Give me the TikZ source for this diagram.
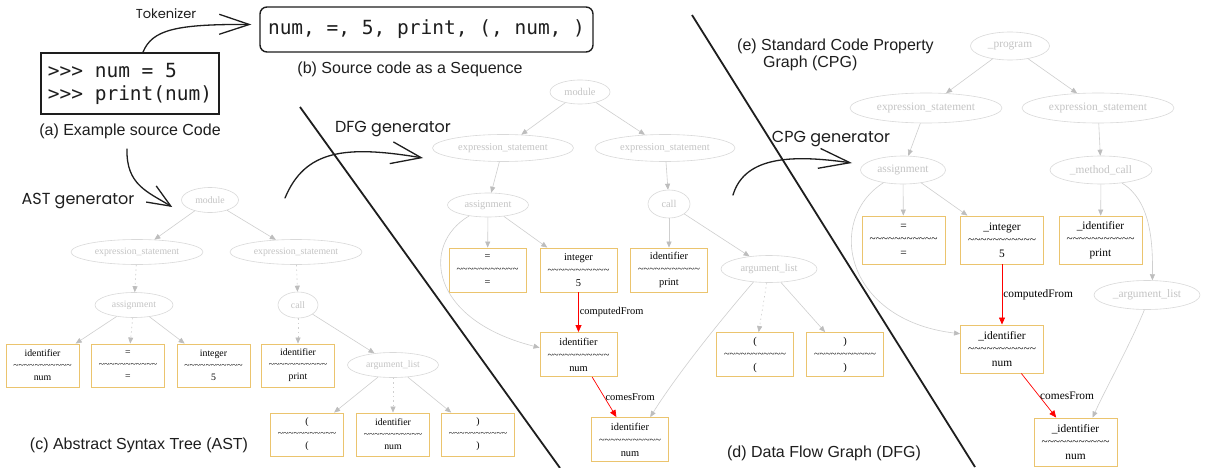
\documentclass[tikz,border=0pt]{standalone}
\usepackage{fontspec}
\setmainfont{Liberation Serif}
\newfontfamily\capfont{Liberation Sans}
\newfontfamily\codefont{DejaVu Sans Mono}
\newfontfamily\handfont{Poppins}
\usetikzlibrary{shapes.geometric,arrows.meta}

\definecolor{ink}{HTML}{1E1E1E}
\definecolor{ellline}{HTML}{D9D9D9}
\definecolor{elltext}{HTML}{C4C4C4}
\definecolor{edgeline}{HTML}{CFCFCF}
\definecolor{edgetip}{HTML}{BDBDBD}
\definecolor{boxline}{HTML}{EBC46E}
\definecolor{flow}{HTML}{FF0000}

% separator line inside a token box
\newcommand\tildeline{\textasciitilde\textasciitilde\textasciitilde\textasciitilde\textasciitilde\textasciitilde\textasciitilde\textasciitilde\textasciitilde\textasciitilde\textasciitilde}

\tikzset{
  ell/.style={ellipse, draw=ellline, text=elltext, inner sep=0pt, line width=0.6pt},
  tok/.style={draw=boxline, line width=0.9pt, align=center, inner sep=0pt, text=black},
  astn/.style={font=\fontsize{9.8}{12}\selectfont},
  dfgn/.style={font=\fontsize{10.4}{13}\selectfont},
  cpgn/.style={font=\fontsize{11.4}{13.5}\selectfont},
  astbox/.style={tok, astn, minimum width=73pt, minimum height=43pt},
  dfgbox/.style={tok, dfgn, minimum width=77pt, minimum height=44pt},
  cpgbox/.style={tok, cpgn, minimum width=83pt, minimum height=48pt},
  edge/.style={draw=edgeline, line width=0.6pt, -{Triangle[length=6pt,width=5pt,color=edgetip]}},
  dotedge/.style={edge, dash pattern=on 1.5pt off 3pt},
  flowedge/.style={draw=flow, line width=0.7pt, -{Triangle[length=7pt,width=6pt,color=flow]}},
  flowlbl/.style={right, inner sep=1pt, text=black},
  hand/.style={draw=ink, line width=1.3pt, line cap=round, line join=round},
  caption/.style={font=\capfont\fontsize{16}{19}\selectfont, text=ink, inner sep=0pt},
  handlbl/.style={font=\handfont\fontsize{15}{18}\selectfont, text=ink, inner sep=0pt},
  divider/.style={draw=ink, line width=1.8pt},
}

\begin{document}
\begin{tikzpicture}[x=1pt, y=-1pt]
\fill[white] (0,0) rectangle (1207,468);
\useasboundingbox (0,0) rectangle (1207,468);

% ---------- source code and token sequence ----------
\node[draw=ink, line width=1.6pt, minimum width=178pt, minimum height=61pt, inner sep=0pt,
      align=left, font=\codefont\fontsize{19.5}{23}\selectfont, text=ink] (src) at (130,83.5)
      {>>> num = 5\\>>> print(num)};
\node[caption] (capa) at (130,131) {(a) Example source Code};

\node[draw=ink, line width=1.4pt, rounded corners=7pt, minimum width=333pt, minimum height=45pt,
      inner sep=0pt, font=\codefont\fontsize{19.5}{23}\selectfont, text=ink] (seq) at (426.5,29.5)
      {num, =, 5, print, (, num, )};
\node[caption] (capb) at (410,69) {(b) Source code as a Sequence};

\node[handlbl, font=\handfont\fontsize{13}{16}\selectfont] (toklbl) at (166,14) {Tokenizer};
\draw[hand, -{Straight Barb[length=30pt,width=20pt]}]
  ([xshift=13pt]src.north) .. controls (152,30) and (175,24) .. ([shift={(-8,-5)}]seq.west);

% ---------- (c) AST ----------
\node[ell, astn, minimum width=57pt, minimum height=25pt] (amod) at (210,200) {module};
\node[ell, astn, minimum width=132pt, minimum height=25pt] (aexl) at (137,252) {expression\_statement};
\node[ell, astn, minimum width=132pt, minimum height=25pt] (aexr) at (296,252) {expression\_statement};
\node[ell, astn, minimum width=78pt, minimum height=25pt] (aasg) at (134,305) {assignment};
\node[ell, astn, minimum width=40pt, minimum height=26pt] (acall) at (298,305) {call};
\node[ell, astn, minimum width=91pt, minimum height=25pt] (aarg) at (393,365) {argument\_list};

\node[astbox] (aid)  at (42.5,365.5) {identifier\\\tildeline\\num};
\node[astbox] (aeq)  at (128,365.5)  {=\\\tildeline\\=};
\node[astbox] (aint) at (213.5,365.5) {integer\\\tildeline\\5};
\node[astbox] (aprt) at (298,365.5)  {identifier\\\tildeline\\print};
\node[astbox] (alp)  at (307,434.5)  {(\\\tildeline\\(};
\node[astbox] (anum) at (393,434.5)  {identifier\\\tildeline\\num};
\node[astbox] (arp)  at (478,434.5)  {)\\\tildeline\\)};

\draw[edge] (amod) -- (aexl);
\draw[edge] (amod) -- (aexr);
\draw[dotedge] (aexl) -- (aasg);
\draw[dotedge] (aexr) -- (acall);
\draw[edge] (aasg) -- (aid);
\draw[dotedge] (aasg) -- (aeq);
\draw[edge] (aasg) -- (aint);
\draw[dotedge] (acall) -- (aprt);
\draw[edge] (acall) -- (aarg);
\draw[edge] (aarg) -- (alp);
\draw[dotedge] (aarg) -- (anum);
\draw[edge] (aarg) -- (arp);

\node[caption] (capc) at (139,445) {(c) Abstract Syntax Tree (AST)};

\node[handlbl, font=\handfont\fontsize{16}{19}\selectfont] (astlbl) at (78,201) {AST generator};
\coordinate (astfrom) at (127,149);
\draw[hand, -{Straight Barb[length=23pt,width=19pt]}]
  (astfrom) .. controls (126,185) and (148,192) .. ([shift={(-9,7)}]amod.west);

% ---------- (d) DFG ----------
\draw[divider] (300,107) -- (560,468);

\node[handlbl, font=\handfont\fontsize{16}{19}\selectfont] (dfglbl) at (393,129) {DFG generator};
\coordinate (dfgfrom) at (285,198);
\coordinate (dfgto) at (423,158);
\draw[hand, -{Straight Barb[length=30pt,width=22pt]}]
  (dfgfrom) .. controls (305,150) and (345,145) .. (dfgto);

\node[ell, dfgn, minimum width=60pt, minimum height=24pt] (dmod) at (580,92) {module};
\node[ell, dfgn, minimum width=141pt, minimum height=27pt] (dexl) at (503,148) {expression\_statement};
\node[ell, dfgn, minimum width=140pt, minimum height=27pt] (dexr) at (665,148) {expression\_statement};
\node[ell, dfgn, minimum width=81pt, minimum height=24pt] (dasg) at (488,205) {assignment};
\node[ell, dfgn, minimum width=42pt, minimum height=28pt] (dcall) at (669,204) {call};
\node[ell, dfgn, minimum width=96pt, minimum height=27pt] (darg) at (769,269) {argument\_list};

\node[dfgbox] (deq)  at (487.5,270) {=\\\tildeline\\=};
\node[dfgbox] (dint) at (578.5,270) {integer\\\tildeline\\5};
\node[dfgbox] (dprt) at (669,270)   {identifier\\\tildeline\\print};
\node[dfgbox] (dnum) at (578.5,354.5) {identifier\\\tildeline\\num};
\node[dfgbox] (dlp)  at (755,354.5) {(\\\tildeline\\(};
\node[dfgbox] (drp)  at (845,354.5) {)\\\tildeline\\)};
\node[dfgbox] (dnum2) at (630,439.5) {identifier\\\tildeline\\num};

\draw[edge] (dmod) -- (dexl);
\draw[edge] (dmod) -- (dexr);
\draw[edge] (dexl) -- (dasg);
\draw[edge] (dexr) -- (dcall);
\draw[edge] (dasg) -- (deq);
\draw[edge] (dasg) -- (dint);
\draw[edge] (dasg.210) .. controls (420,245) and (430,320) .. (dnum.170);
\draw[edge] (dcall) -- (dprt);
\draw[edge] (dcall) -- (darg);
\draw[dotedge] (darg) -- (dlp);
\draw[edge] (darg) -- (drp);
\draw[edge] (darg.220) .. controls (725,315) and (680,370) .. (dnum2.48);
\draw[flowedge] (dint) -- node[flowlbl, dfgn] {computedFrom} (dnum);
\draw[flowedge] (dnum) -- node[flowlbl, dfgn] {comesFrom} (dnum2);

\node[caption] (capd) at (824,453) {(d) Data Flow Graph (DFG)};

% ---------- (e) CPG ----------
\draw[divider] (692,15) -- (975,467);

\node[caption, anchor=west] (cape) at (737,46) {(e) Standard Code Property};
\node[caption, anchor=west] (cape2) at (763,63) {Graph (CPG)};

\node[handlbl, font=\handfont\fontsize{16}{19}\selectfont] (cpglbl) at (831,139) {CPG generator};
\coordinate (cpgfrom) at (733,195);
\coordinate (cpgto) at (852,163);
\draw[hand, -{Straight Barb[length=31pt,width=20pt]}]
  (cpgfrom) .. controls (745,155) and (795,155) .. (cpgto);

\node[ell, cpgn, minimum width=79pt, minimum height=28pt] (cprog) at (1010,46) {\_program};
\node[ell, cpgn, minimum width=152pt, minimum height=30pt] (cexl) at (926,108) {expression\_statement};
\node[ell, cpgn, minimum width=152pt, minimum height=30pt] (cexr) at (1098,108) {expression\_statement};
\node[ell, cpgn, minimum width=85pt, minimum height=28pt] (casg) at (903,170) {assignment};
\node[ell, cpgn, minimum width=102pt, minimum height=28pt] (cmc) at (1101,170) {\_method\_call};
\node[ell, cpgn, minimum width=106pt, minimum height=29pt] (carg) at (1147,295) {\_argument\_list};

\node[cpgbox] (ceq)  at (903.5,240) {=\\\tildeline\\=};
\node[cpgbox] (cint) at (1002,240)  {\_integer\\\tildeline\\5};
\node[cpgbox] (cprt) at (1100.5,240) {\_identifier\\\tildeline\\print};
\node[cpgbox] (cnum) at (1002,349)  {\_identifier\\\tildeline\\num};
\node[cpgbox] (cnum2) at (1075.5,442) {\_identifier\\\tildeline\\num};

\draw[edge] (cprog) -- (cexl);
\draw[edge] (cprog) -- (cexr);
\draw[edge] (cexl) -- (casg);
\draw[edge] (cexr) -- (cmc);
\draw[edge] (casg) -- (ceq);
\draw[edge] (casg) -- (cint);
\draw[edge] (casg.213) .. controls (825,220) and (845,320) .. (cnum.160);
\draw[edge] (cmc) -- (cprt);
\draw[edge] (cmc.328) .. controls (1150,200) and (1153,240) .. (carg.70);
\draw[edge] (carg.260) .. controls (1130,345) and (1105,390) .. (cnum2.55);
\draw[flowedge] (cint) -- node[flowlbl, cpgn] {computedFrom} (cnum);
\draw[flowedge] (cnum) -- node[flowlbl, cpgn] {comesFrom} (cnum2);
\end{tikzpicture}
\end{document}
